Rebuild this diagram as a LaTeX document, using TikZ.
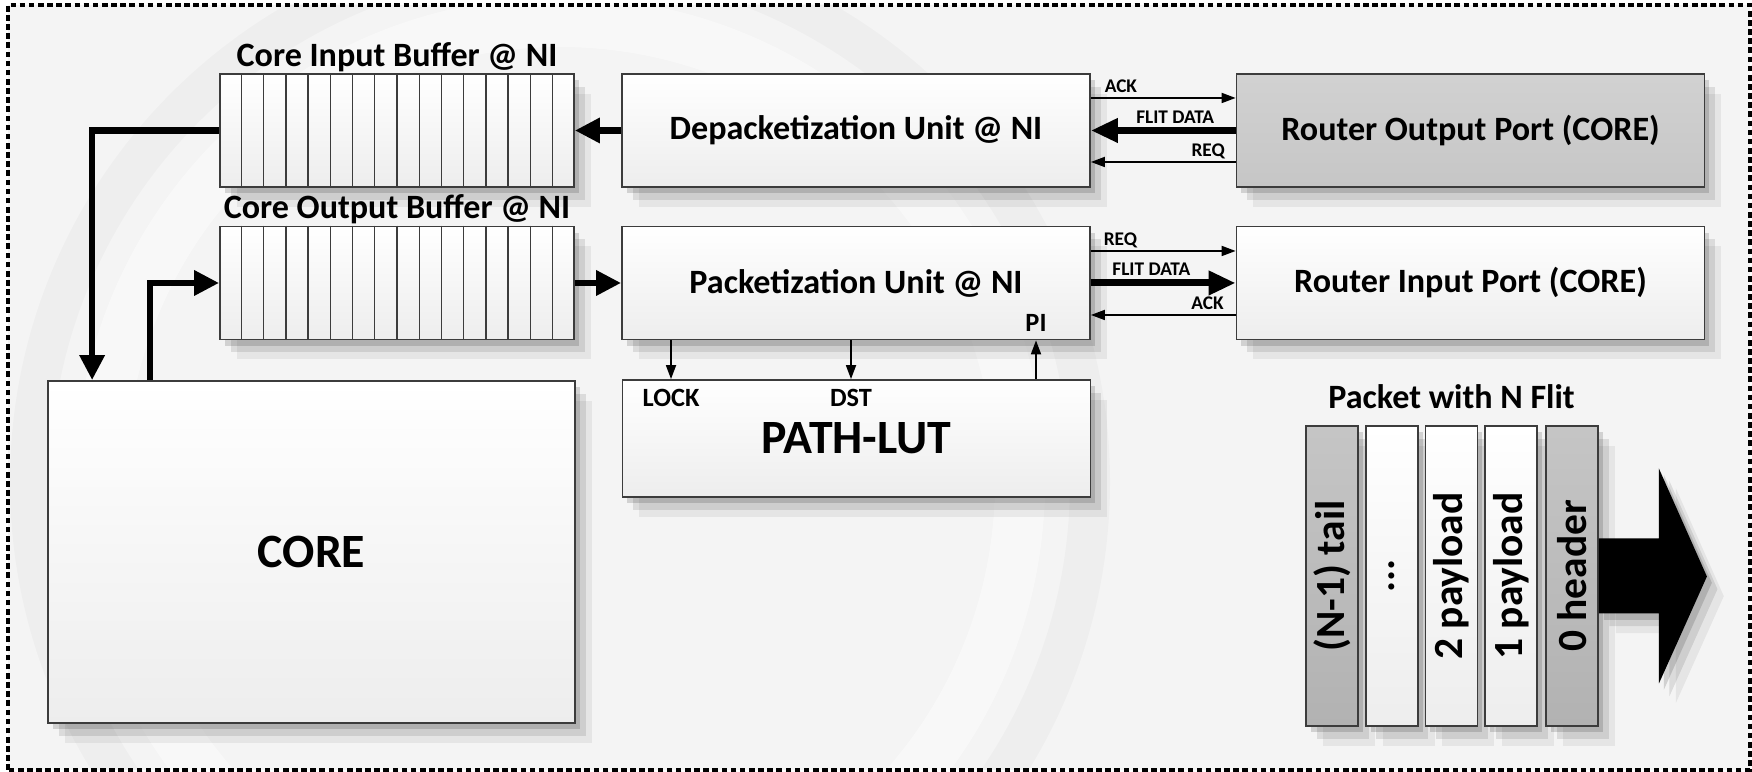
\documentclass[tikz,border=0pt]{standalone}
\usepackage{fontspec}
\setmainfont{Carlito}
\usepackage{graphicx}
\usetikzlibrary{arrows.meta, positioning, calc, shadows}
\definecolor{niLine}{HTML}{3C3C3C}
\definecolor{niPort}{HTML}{C6C6C6}
\definecolor{niFlit}{HTML}{B2B2B2}
\definecolor{niBack}{HTML}{F4F4F4}

\tikzset{
  sombra/.style={
    drop shadow={shadow xshift=1.4pt, shadow yshift=-1.8pt, opacity=.14, fill=black},
    drop shadow={shadow xshift=3pt, shadow yshift=-3.6pt, opacity=.10, fill=black},
    drop shadow={shadow xshift=4.8pt, shadow yshift=-5.6pt, opacity=.06, fill=black}},
  bloque/.style={draw=niLine, line width=.5pt, top color=white, bottom color=black!7,
    minimum width=4.68cm, minimum height=1.13cm, inner sep=0pt, sombra,
    font=\bfseries\fontsize{9.7}{11}\selectfont},
  buffer/.style={bloque, minimum width=3.54cm},
  grande/.style={font=\bfseries\fontsize{13.6}{15}\selectfont},
  titulo/.style={inner sep=0pt, font=\bfseries\fontsize{9.7}{11}\selectfont},
  etq/.style={inner sep=0pt, font=\bfseries\fontsize{5.5}{6}\selectfont},
  puerto/.style={inner sep=0pt, font=\bfseries\fontsize{7.5}{8}\selectfont},
  flit/.style={bloque, minimum width=.52cm, minimum height=3cm,
    font=\bfseries\fontsize{11.8}{13}\selectfont},
  senal/.style={-{Triangle[length=.14cm, width=.1cm]}, line width=.5pt},
  datos/.style={-{Triangle[length=.27cm, width=.23cm]}, line width=2pt},
  bus/.style={-{Triangle[length=.25cm, width=.24cm]}, line width=1.8pt},
}

\begin{document}
\begin{tikzpicture}
  \useasboundingbox (0,0) rectangle (17.52,7.72);

  % fondo
  \fill[niBack] (0.08,0.02) rectangle (17.50,7.67);
  \begin{scope}
    \clip (0.08,0.02) rectangle (17.50,7.67);
    \draw[white, line width=.5cm, opacity=.45] (5.6,2.9) circle (4.6);
    \draw[black, line width=.4cm, opacity=.025] (5.6,2.9) circle (5.3);
  \end{scope}
  \draw[dash pattern=on 1.6pt off 1pt, line width=1pt] (0.08,0.02) rectangle (17.50,7.67);

  % buffers
  \node[buffer] (inbuf) at (3.97,6.415) {};
  \node[buffer] (outbuf) at (3.97,4.89) {};
  \foreach \b in {inbuf,outbuf}
    \foreach \i in {1,...,15}
      \draw[niLine, line width=.4pt] ($(\b.north west)!\i/16!(\b.north east)$)
        -- ($(\b.south west)!\i/16!(\b.south east)$);
  \node[titulo, above=.01cm of inbuf] (tin) {Core Input Buffer @ NI};
  \node[titulo, above=.01cm of outbuf] (tout) {Core Output Buffer @ NI};

  % bloques
  \node[bloque] (depack) at (8.56,6.415) {Depacketization Unit @ NI};
  \node[bloque, top color=niPort!80, bottom color=niPort] (rout) at (14.705,6.415)
    {Router Output Port (CORE)};
  \node[bloque] (pack) at (8.56,4.89) {Packetization Unit @ NI};
  \node[bloque] (rin) at (14.705,4.89) {Router Input Port (CORE)};
  \node[bloque, grande, minimum width=5.27cm, minimum height=3.42cm] (core) at (3.115,2.20) {CORE};
  \node[bloque, grande, minimum height=1.17cm] (lut) at (8.565,3.335) {PATH-LUT};

  % puertos de la LUT
  \node[puerto] (lock) at (6.71,3.74) {LOCK};
  \node[puerto] (dst) at (8.51,3.74) {DST};
  \node[puerto] (pi) at (10.36,4.49) {PI};
  \draw[senal] (pack.south -| lock) -- (lut.north -| lock);
  \draw[senal] (pack.south -| dst) -- (lut.north -| dst);
  \draw[senal] (lut.north -| pi) -- (pack.south -| pi);

  % camino de datos
  \draw[bus] (depack.west) -- (inbuf.east);
  \draw[bus] (outbuf.east) -- (pack.west);
  \draw[bus] (inbuf.west) -| ([xshift=.45cm]core.north west);
  \draw[bus] ([xshift=1.03cm]core.north west) |- (outbuf.west);

  % handshake con el router
  \draw[senal] ([yshift=.325cm]depack.east) -- ([yshift=.325cm]rout.west)
    node[etq, pos=0, anchor=base west, xshift=.13cm, yshift=.05cm] {ACK};
  \draw[datos] (rout.west) -- (depack.east)
    node[etq, pos=0, anchor=base east, xshift=-.18cm, yshift=.07cm] {FLIT DATA};
  \draw[senal] ([yshift=-.315cm]rout.west) -- ([yshift=-.315cm]depack.east)
    node[etq, pos=0, anchor=base east, xshift=-.1cm, yshift=.05cm] {REQ};
  \draw[senal] ([yshift=.32cm]pack.east) -- ([yshift=.32cm]rin.west)
    node[etq, pos=0, anchor=base west, xshift=.12cm, yshift=.05cm] {REQ};
  \draw[datos] (pack.east) -- (rin.west)
    node[etq, pos=0, anchor=base west, xshift=.18cm, yshift=.07cm] {FLIT DATA};
  \draw[senal] ([yshift=-.32cm]rin.west) -- ([yshift=-.32cm]pack.east)
    node[etq, pos=0, anchor=base east, xshift=-.11cm, yshift=.05cm] {ACK};

  % paquete
  \node[flit, top color=niFlit!75, bottom color=niFlit] (f4) at (13.32,1.96)
    {\rotatebox{90}{(N-1) tail}};
  \node[flit, right=.06cm of f4] (f3) {\rotatebox{90}{...}};
  \node[flit, right=.06cm of f3] (f2) {\rotatebox{90}{2 payload}};
  \node[flit, right=.06cm of f2] (f1) {\rotatebox{90}{1 payload}};
  \node[flit, top color=niFlit!75, bottom color=niFlit, right=.07cm of f1] (f0)
    {\rotatebox{90}{0 header}};
  \node[titulo, above=.16cm of f2] (tpk) {Packet with N Flit};
  \fill[sombra] (f0.east) ++(0,.375) -- ++(.6,0) -- ++(0,.7) -- ++(.48,-1.08)
    -- ++(-.48,-1.07) -- ++(0,.7) -- ++(-.6,0) -- cycle;
\end{tikzpicture}
\end{document}
